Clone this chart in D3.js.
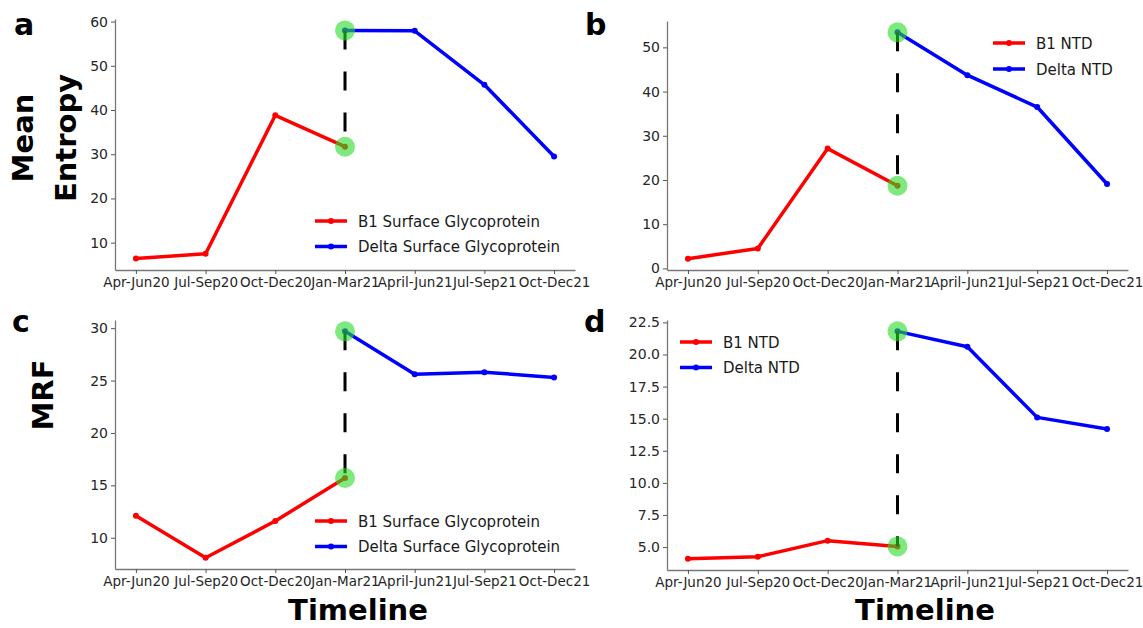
<!DOCTYPE html>
<html>
<head>
<meta charset="utf-8">
<script src="https://cdn.jsdelivr.net/npm/d3@7"></script>
<style>
  body { margin: 0; background: #fff; }
  svg { display: block; }
  .tick text { font-family: "DejaVu Sans", sans-serif; fill: #262626; }
  .tick line { stroke: #555; }
  .domain { stroke: #777; stroke-width: 1.3; }
</style>
</head>
<body>
<div id="chart"></div>
<script>
// timeline categories
var periods = ["Apr-Jun20", "Jul-Sep20", "Oct-Dec20", "Jan-Mar21", "April-Jun21", "Jul-Sep21", "Oct-Dec21"];
var b1Periods = ["Apr-Jun20", "Jul-Sep20", "Oct-Dec20", "Jan-Mar21"];
var deltaPeriods = ["Jan-Mar21", "April-Jun21", "Jul-Sep21", "Oct-Dec21"];

// mean entropy
var entropySurfaceB1 = [6.4, 7.5, 38.8, 31.7];
var entropySurfaceDelta = [58.0, 57.9, 45.7, 29.5];
var entropyNtdB1 = [2.2, 4.5, 27.1, 18.7];
var entropyNtdDelta = [53.4, 43.7, 36.5, 19.1];

// MRF
var mrfSurfaceB1 = [12.1, 8.1, 11.6, 15.7];
var mrfSurfaceDelta = [29.7, 25.6, 25.8, 25.3];
var mrfNtdB1 = [4.1, 4.25, 5.5, 5.05];
var mrfNtdDelta = [21.8, 20.6, 15.1, 14.2];

// y tick labels
var entropySurfaceTicks = [10, 20, 30, 40, 50, 60];
var entropyNtdTicks = [0, 10, 20, 30, 40, 50];
var mrfSurfaceTicks = [10, 15, 20, 25, 30];
var mrfNtdTicks = [5.0, 7.5, 10.0, 12.5, 15.0, 17.5, 20.0, 22.5];

var surfaceLabels = ["B1 Surface Glycoprotein", "Delta Surface Glycoprotein"];
var ntdLabels = ["B1 NTD", "Delta NTD"];

var svg = d3.select("#chart")
    .append("svg")
    .attr("width", 1143)
    .attr("height", 628);

function drawPanel(p) {
    var width = p.right - p.left,
        height = p.bottom - p.top;

    var g = svg.append("g")
        .attr("transform", "translate(" + p.left + "," + p.top + ")");

    var x = d3.scalePoint()
        .domain(periods)
        .range([0, width])
        .padding(0.3);

    // matplotlib style 5% margin
    var all = p.b1.concat(p.delta);
    var lo = d3.min(all), hi = d3.max(all), r = hi - lo;
    var y = d3.scaleLinear()
        .domain([lo - 0.05 * r, hi + 0.05 * r])
        .range([height, 0]);

    g.append("g")
        .attr("transform", "translate(0," + height + ")")
        .call(d3.axisBottom(x).tickSize(4).tickSizeOuter(0).tickPadding(3))
        .selectAll("text")
        .style("font-size", "13.5px");

    g.append("g")
        .call(d3.axisLeft(y).tickValues(p.ticks).tickFormat(p.fmt).tickSize(4).tickSizeOuter(0).tickPadding(3))
        .selectAll("text")
        .style("font-size", "14px");

    var line = d3.line()
        .x(function(d) { return x(d.period); })
        .y(function(d) { return y(d.value); });

    var series = [
        {color: "#ff0000", data: b1Periods.map(function(k, i) { return {period: k, value: p.b1[i]}; })},
        {color: "#0000ff", data: deltaPeriods.map(function(k, i) { return {period: k, value: p.delta[i]}; })}
    ];

    series.forEach(function(s) {
        g.append("path")
            .datum(s.data)
            .attr("fill", "none")
            .attr("stroke", s.color)
            .attr("stroke-width", 3.5)
            .attr("stroke-linejoin", "round")
            .attr("d", line);
        g.selectAll(null)
            .data(s.data)
            .enter()
            .append("circle")
            .attr("cx", function(d) { return x(d.period); })
            .attr("cy", function(d) { return y(d.value); })
            .attr("r", 3)
            .attr("fill", s.color);
    });

    // jump between the two variants
    var jx = x("Jan-Mar21");
    g.append("line")
        .attr("x1", jx).attr("x2", jx)
        .attr("y1", y(p.delta[0]))
        .attr("y2", y(p.b1[3]))
        .attr("stroke", "#000")
        .attr("stroke-width", 3)
        .attr("stroke-dasharray", "19,22");

    g.selectAll(null)
        .data([p.delta[0], p.b1[3]])
        .enter()
        .append("circle")
        .attr("cx", jx)
        .attr("cy", function(d) { return y(d); })
        .attr("r", 10)
        .attr("fill", "rgb(40,220,40)")
        .attr("opacity", 0.6);

    // legend
    var lg = svg.append("g")
        .attr("transform", "translate(" + p.legX + "," + p.legY + ")");
    series.forEach(function(s, i) {
        var row = lg.append("g").attr("transform", "translate(0," + i * p.legStep + ")");
        row.append("line")
            .attr("x1", 0).attr("x2", 32)
            .attr("stroke", s.color)
            .attr("stroke-width", 3.5);
        row.append("circle")
            .attr("cx", 16).attr("r", 3)
            .attr("fill", s.color);
        row.append("text")
            .attr("x", 43)
            .attr("y", 5.5)
            .style("font-family", "DejaVu Sans, sans-serif")
            .style("font-size", "15px")
            .style("fill", "#1a1a1a")
            .text(p.labels[i]);
    });

    // panel letter
    svg.append("text")
        .attr("x", p.letterX)
        .attr("y", p.letterY)
        .style("font-family", "DejaVu Sans, sans-serif")
        .style("font-weight", "bold")
        .style("font-size", "30px")
        .text(p.letter);
}

drawPanel({letter: "a", letterX: 14, letterY: 35, left: 115, right: 575, top: 19, bottom: 270,
    b1: entropySurfaceB1, delta: entropySurfaceDelta, ticks: entropySurfaceTicks, fmt: d3.format("d"),
    labels: surfaceLabels, legX: 315, legY: 221, legStep: 25.5});
drawPanel({letter: "b", letterX: 585, letterY: 35, left: 667, right: 1128, top: 21, bottom: 270,
    b1: entropyNtdB1, delta: entropyNtdDelta, ticks: entropyNtdTicks, fmt: d3.format("d"),
    labels: ntdLabels, legX: 993, legY: 43, legStep: 26});
drawPanel({letter: "c", letterX: 12, letterY: 332, left: 115, right: 575, top: 320, bottom: 569,
    b1: mrfSurfaceB1, delta: mrfSurfaceDelta, ticks: mrfSurfaceTicks, fmt: d3.format("d"),
    labels: surfaceLabels, legX: 315, legY: 521, legStep: 25.5});
drawPanel({letter: "d", letterX: 584, letterY: 332, left: 667, right: 1128, top: 320, bottom: 570,
    b1: mrfNtdB1, delta: mrfNtdDelta, ticks: mrfNtdTicks, fmt: d3.format(".1f"),
    labels: ntdLabels, legX: 680, legY: 342, legStep: 25.5});

// axis titles
var titleFont = "DejaVu Sans, sans-serif";
svg.append("text")
    .attr("transform", "translate(33,138) rotate(-90)")
    .style("text-anchor", "middle")
    .style("font-family", titleFont).style("font-weight", "bold").style("font-size", "29px")
    .text("Mean");
svg.append("text")
    .attr("transform", "translate(76,138) rotate(-90)")
    .style("text-anchor", "middle")
    .style("font-family", titleFont).style("font-weight", "bold").style("font-size", "29px")
    .text("Entropy");
svg.append("text")
    .attr("transform", "translate(53,395) rotate(-90)")
    .style("text-anchor", "middle")
    .style("font-family", titleFont).style("font-weight", "bold").style("font-size", "29px")
    .text("MRF");
svg.append("text")
    .attr("x", 358).attr("y", 620)
    .style("text-anchor", "middle")
    .style("font-family", titleFont).style("font-weight", "bold").style("font-size", "29px")
    .text("Timeline");
svg.append("text")
    .attr("x", 925).attr("y", 620)
    .style("text-anchor", "middle")
    .style("font-family", titleFont).style("font-weight", "bold").style("font-size", "29px")
    .text("Timeline");
</script>
</body>
</html>
